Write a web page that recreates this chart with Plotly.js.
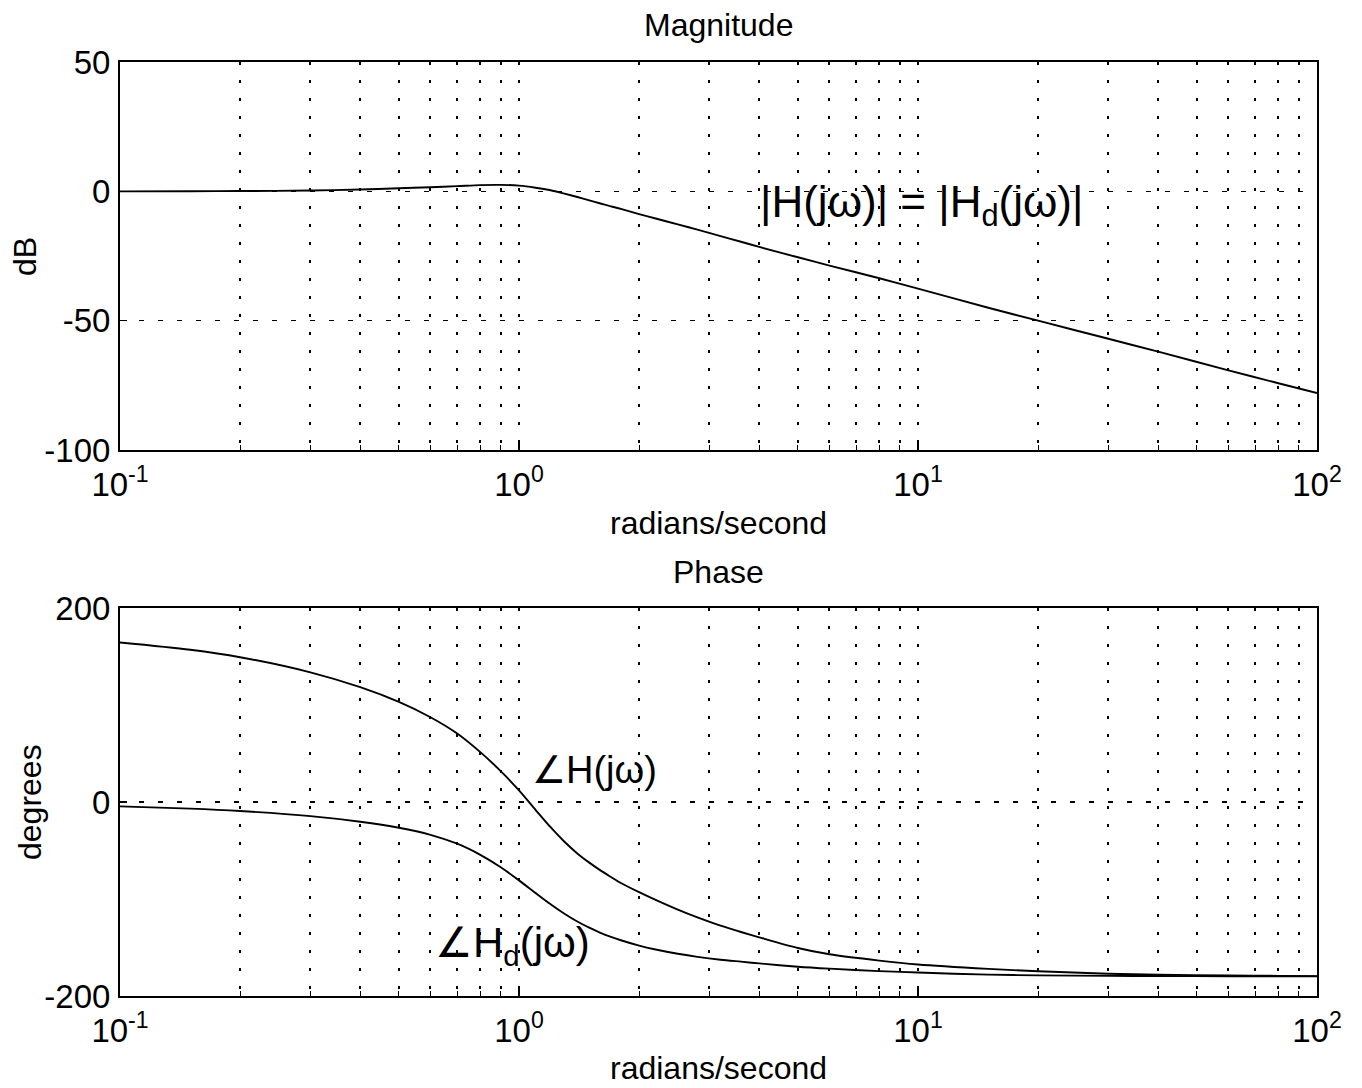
<!DOCTYPE html>
<html>
<head>
<meta charset="utf-8">
<script src="https://cdn.plot.ly/plotly-3.0.1.min.js"></script>
<style>
  html, body { margin: 0; padding: 0; background: #ffffff; }
  #plot { width: 1362px; height: 1088px; }
</style>
</head>
<body>
<div id="plot"></div>
<script>
// Frequency points (rad/s)
const freq = [0.1, 0.15, 0.2, 0.3, 0.4, 0.5, 0.6, 0.7, 0.8, 0.9,
              1.0, 1.1, 1.2, 1.3, 1.4, 1.5, 1.6, 1.7, 1.8, 2.0,
              2.2, 2.5, 2.8, 3.2, 3.6, 4, 5, 6, 8, 10,
              15, 20, 30, 40, 60, 80, 100];

// Magnitude in dB, shared by H(jw) and Hd(jw)
const magDb = [0.0, 0.05, 0.1, 0.3, 0.7, 1.2, 1.6, 2.0, 2.4, 2.5,
               2.2, 1.4, 0.4, -0.9, -2.2, -3.5, -4.7, -5.8, -6.8, -8.8,
               -10.5, -12.8, -14.8, -17.3, -19.5, -21.5, -25.5, -28.7, -33.6, -37.6,
               -45.0, -50.0, -57.0, -62.0, -69.2, -74.2, -78.0];

// Phase in degrees of H(jw)
const phaseH = [164.5, 157, 149.3, 133.7, 118.4, 103.2, 87.4, 70.6, 51.4, 31.8,
                12, -8, -26, -41, -53, -62.5, -70.5, -77.3, -83.5, -93,
                -101, -111, -119, -127.5, -134, -139.5, -150.5, -157, -163.5, -167.5,
                -172, -174.5, -177, -178, -178.8, -179.2, -179.5];

// Phase in degrees of Hd(jw)
const phaseHd = [-4.5, -6.8, -9.3, -14.5, -20.3, -26.5, -33.8, -43, -54.5, -67.3,
                 -80.8, -93.8, -105.4, -115.2, -123.2, -129.6, -134.8, -139, -142.5, -148,
                 -152, -156.4, -159.6, -162.6, -164.6, -166.4, -169.8, -171.8, -174.3, -175.8,
                 -178, -178.7, -179.2, -179.4, -179.6, -179.7, -179.8];

// Axis ticks
const xDecades = [0.1, 1, 10, 100];
const xDecadeLabels = ['10<sup>-1</sup>', '10<sup>0</sup>', '10<sup>1</sup>', '10<sup>2</sup>'];
const xMinorVals = [0.2, 0.3, 0.4, 0.5, 0.6, 0.7, 0.8, 0.9,
                    2, 3, 4, 5, 6, 7, 8, 9,
                    20, 30, 40, 50, 60, 70, 80, 90];
const magTicks = [50, 0, -50, -100];
const phaseTicks = [200, 0, -200];

const lineStyle = { color: '#000000', width: 1.9, shape: 'spline', smoothing: 0.8 };

const traces = [
  { x: freq, y: magDb, xaxis: 'x', yaxis: 'y', mode: 'lines', line: lineStyle, hoverinfo: 'skip' },
  { x: freq, y: phaseH, xaxis: 'x2', yaxis: 'y2', mode: 'lines', line: lineStyle, hoverinfo: 'skip' },
  { x: freq, y: phaseHd, xaxis: 'x2', yaxis: 'y2', mode: 'lines', line: lineStyle, hoverinfo: 'skip' }
];

const FONT = 'Liberation Sans, Arial, Helvetica, sans-serif';
const GRID_V = '3px,15px';
const GRID_H = '5px,14px';

function xAxis(anchor) {
  return {
    type: 'log',
    range: [-1, 2],
    anchor: anchor,
    tickmode: 'array',
    tickvals: xDecades,
    ticktext: xDecadeLabels,
    tickfont: { size: 33, color: '#000000', family: FONT },
    ticks: 'inside',
    ticklen: 7,
    tickwidth: 1.5,
    tickcolor: '#000000',
    showgrid: true,
    gridcolor: '#000000',
    gridwidth: 2,
    griddash: GRID_V,
    minor: {
      tickmode: 'array',
      tickvals: xMinorVals,
      ticks: 'inside',
      ticklen: 5,
      tickwidth: 1.2,
      tickcolor: '#000000',
      showgrid: true,
      gridcolor: '#000000',
      gridwidth: 2,
      griddash: GRID_V
    },
    showline: true,
    linecolor: '#000000',
    linewidth: 2,
    mirror: true,
    zeroline: false,
    ticklabelstandoff: 4
  };
}

function yAxis(anchor, domain, range, ticks) {
  return {
    domain: domain,
    range: range,
    anchor: anchor,
    tickmode: 'array',
    tickvals: ticks,
    ticktext: ticks.map(String),
    tickfont: { size: 33, color: '#000000', family: FONT },
    ticks: 'inside',
    ticklen: 7,
    tickwidth: 1.5,
    tickcolor: '#000000',
    showgrid: true,
    gridcolor: '#000000',
    gridwidth: 1.5,
    griddash: GRID_H,
    showline: true,
    linecolor: '#000000',
    linewidth: 2,
    mirror: true,
    zeroline: false,
    ticklabelstandoff: 1
  };
}

const titleFont = { size: 32, family: FONT, color: '#000000' };

const layout = {
  width: 1362,
  height: 1088,
  margin: { l: 120, r: 45, t: 62, b: 92 },
  paper_bgcolor: '#ffffff',
  plot_bgcolor: '#ffffff',
  showlegend: false,
  font: { family: FONT, color: '#000000' },
  xaxis: xAxis('y'),
  yaxis: yAxis('x', [0.5846, 1], [-100, 50], magTicks),
  xaxis2: xAxis('y2'),
  yaxis2: yAxis('x2', [0, 0.4154], [-200, 200], phaseTicks),
  annotations: [
    { text: 'Magnitude', xref: 'paper', yref: 'paper', x: 0.5, y: 1.0396, xanchor: 'center', yanchor: 'middle',
      showarrow: false, font: titleFont },
    { text: 'Phase', xref: 'paper', yref: 'paper', x: 0.5, y: 0.454, xanchor: 'center', yanchor: 'middle',
      showarrow: false, font: titleFont },
    { text: 'radians/second', xref: 'paper', yref: 'paper', x: 0.5, y: 0.5064, xanchor: 'center', yanchor: 'middle',
      showarrow: false, font: titleFont },
    { text: 'radians/second', xref: 'paper', yref: 'paper', x: 0.5, y: -0.0771, xanchor: 'center', yanchor: 'middle',
      showarrow: false, font: titleFont },
    { text: 'dB', xref: 'paper', yref: 'paper', x: -0.0794, y: 0.7923, xanchor: 'center', yanchor: 'middle',
      textangle: -90, showarrow: false, font: titleFont },
    { text: 'degrees', xref: 'paper', yref: 'paper', x: -0.0752, y: 0.2077, xanchor: 'center', yanchor: 'middle',
      textangle: -90, showarrow: false, font: titleFont },
    // Hand-written notes on the plots
    { text: '|H(jω)| = |H<sub>d</sub>(jω)|', xref: 'paper', yref: 'paper', x: 0.670, y: 0.8469,
      xanchor: 'center', yanchor: 'middle', showarrow: false,
      font: { size: 44, family: FONT, color: '#000000' } },
    { text: '∠H(jω)', xref: 'paper', yref: 'paper', x: 0.3968, y: 0.242,
      xanchor: 'center', yanchor: 'middle', showarrow: false,
      font: { size: 38, family: FONT, color: '#000000' } },
    { text: '∠H<sub>d</sub>(jω)', xref: 'paper', yref: 'paper', x: 0.3283, y: 0.0546,
      xanchor: 'center', yanchor: 'middle', showarrow: false,
      font: { size: 42, family: FONT, color: '#000000' } }
  ]
};

Plotly.newPlot('plot', traces, layout, { staticPlot: true, displayModeBar: false });
</script>
</body>
</html>
